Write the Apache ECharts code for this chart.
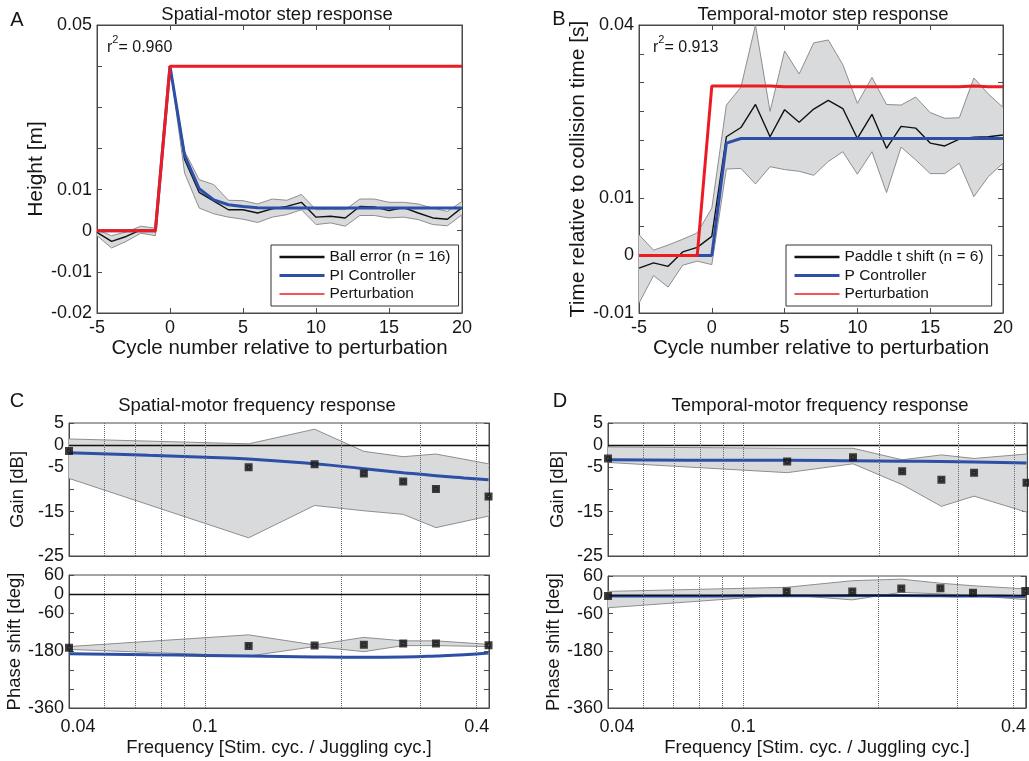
<!DOCTYPE html>
<html><head><meta charset="utf-8">
<script src="https://cdn.jsdelivr.net/npm/echarts@6/dist/echarts.min.js"></script>
<style>html,body{margin:0;padding:0;background:#fff}#c{width:1029px;height:761px}</style>
</head><body><div id="c"></div>
<script>
// ---------- DATA ----------
const cycles = [-5,-4,-3,-2,-1,0,1,2,3,4,5,6,7,8,9,10,11,12,13,14,15,16,17,18,19,20];

// Panel A: spatial-motor step response (Height [m])
const ballError = [-0.0004,-0.0026,-0.0014,0.0002,-0.0002,0.040,0.0173,0.0093,0.0072,0.0051,0.0051,0.0043,0.0053,0.0059,0.0069,0.0033,0.0035,0.0031,0.0059,0.0058,0.0049,0.0056,0.0043,0.0031,0.0028,0.0056];
const ballUpper = [0.0002,-0.0012,-0.0003,0.0011,0.0006,0.040,0.0193,0.0124,0.0112,0.0074,0.0073,0.0065,0.0077,0.0074,0.0088,0.0051,0.0052,0.0051,0.0077,0.0077,0.0069,0.0069,0.0065,0.0055,0.0047,0.0071];
const ballLower = [-0.0012,-0.0042,-0.0026,-0.0006,-0.0012,0.040,0.0140,0.0055,0.0041,0.0033,0.0028,0.0020,0.0033,0.0039,0.0051,0.0015,0.0019,0.0011,0.0037,0.0037,0.0031,0.0033,0.0027,0.0015,0.0012,0.0039];
const piController = [0,0,0,0,0,0.040,0.0183,0.0102,0.0075,0.0063,0.0059,0.0056,0.0055,0.0055,0.0055,0.0055,0.0055,0.0055,0.0055,0.0055,0.0055,0.0055,0.0055,0.0055,0.0055,0.0055];
const perturbationA = [0,0,0,0,0,0.04,0.04,0.04,0.04,0.04,0.04,0.04,0.04,0.04,0.04,0.04,0.04,0.04,0.04,0.04,0.04,0.04,0.04,0.04,0.04,0.04];

// Panel B: temporal-motor step response (Time relative to collision time [s])
const paddleShift = [-0.0022,-0.0013,-0.0019,0.0006,0.0014,0.0033,0.0206,0.0222,0.0262,0.0206,0.0253,0.0231,0.0254,0.0269,0.0255,0.0203,0.0245,0.0186,0.0224,0.0221,0.0195,0.0190,0.0202,0.0205,0.0206,0.0209];
const paddleUpper = [0.0036,0.0009,0.0018,0.0028,0.0039,0.0082,0.0261,0.0292,0.0400,0.0250,0.0355,0.0315,0.0369,0.0374,0.0331,0.0264,0.0309,0.0262,0.0261,0.0275,0.0248,0.0238,0.0239,0.0308,0.0280,0.0257];
const paddleLower = [-0.0083,-0.0035,-0.0055,-0.0017,-0.0010,-0.0016,0.0150,0.0151,0.0124,0.0154,0.0149,0.0146,0.0139,0.0163,0.0180,0.0141,0.0180,0.0109,0.0188,0.0166,0.0142,0.0142,0.0160,0.0102,0.0137,0.0160];
const pController = [0,0,0,0,0,0,0.0195,0.0203,0.0203,0.0203,0.0203,0.0203,0.0203,0.0203,0.0203,0.0203,0.0203,0.0203,0.0203,0.0203,0.0203,0.0203,0.0203,0.0203,0.0203,0.0203];
const perturbationB = [0,0,0,0,0,0.0294,0.0294,0.0294,0.0294,0.0294,0.0293,0.0293,0.0293,0.0293,0.0293,0.0293,0.0293,0.0293,0.0293,0.0293,0.0293,0.0293,0.0293,0.0294,0.0293,0.0293];

// Panels C/D: frequency responses
const freqs = [0.05,0.125,0.175,0.225,0.275,0.325,0.425];
const spatialGain      = [-1.3,-5.0,-4.3,-6.4,-8.2,-9.9,-11.6];
const spatialGainUpper = [1.4,0.3,3.6,-1.4,-2.6,-2.0,-4.2];
const spatialGainLower = [-7.5,-20.9,-13.6,-14.8,-15.6,-18.6,-16.0];
const spatialPhase      = [-170,-164,-163,-160,-156,-156,-162];
const spatialPhaseUpper = [-166,-129,-161,-137,-148,-148,-159];
const spatialPhaseLower = [-175,-196,-166,-182,-163,-163,-166];

const temporalGain      = [-3.0,-3.7,-2.7,-5.9,-7.8,-6.2,-8.5];
const temporalGainUpper = [-0.4,-0.7,-0.7,-3.3,-2.2,-3.0,-2.0];
const temporalGainLower = [-3.9,-6.2,-4.2,-8.9,-13.8,-11.5,-15.1];
const temporalPhase      = [-4,11,11,20,21,7,12];
const temporalPhaseUpper = [11,24,45,50,37,29,19];
const temporalPhaseLower = [-41,0,-16,8,3,-2,-15];

const modelFreqs = [0.05,0.075,0.1,0.125,0.175,0.225,0.275,0.325,0.375,0.425];
const piGain  = [-1.7,-2.3,-2.7,-3.1,-4.2,-5.3,-6.2,-6.9,-7.4,-7.8];
const piPhase = [-189,-192,-194,-196,-199,-200,-199,-196,-192,-186];
const pGain   = [-3.3,-3.4,-3.4,-3.4,-3.5,-3.6,-3.7,-3.8,-3.9,-4.0];
const pPhase  = [-4,-4,-3,-3,-2,-2,-3,-4,-4,-5];

// tick labels
const heightTicks = [-0.02,-0.01,0,0.01,0.05];
const timeTicks = [-0.01,0,0.01,0.04];
const gainTicks = [-25,-15,-5,0,5];
const phaseTicks = [-360,-180,-60,0,60];
const freqTickValues = [0.05,0.1,0.4];
const freqTickLabels = ['0.04','0.1','0.4'];
const freqGridLines = [0.06,0.07,0.08,0.09,0.1,0.2,0.3,0.4];

// ---------- STYLE ----------
const FONT = '"Liberation Sans", Arial, Helvetica, sans-serif';
const AX = '#4a4a4a';
const TXT = '#161616';
const BAND_FILL = '#d9dadc', BAND_EDGE = '#8e8e8e';
const RED = '#ec1c24', BLUE = '#2d4fa5', BLACK = '#111';

const chart = echarts.init(document.getElementById('c'), null, {renderer:'canvas', width:1029, height:761});

const grids = [
  {left:97, top:25, width:365, height:288},
  {left:639, top:25, width:364, height:288},
  {left:69, top:423, width:420, height:133},
  {left:69, top:575, width:420, height:133},
  {left:608, top:423, width:419, height:133},
  {left:608, top:576, width:419, height:132}
].map(g => Object.assign({show:true, borderColor:AX, borderWidth:1, backgroundColor:'rgba(0,0,0,0)'}, g));

function pick(shown){
  return v => shown.some(s => Math.abs(s - v) < 1e-9) ? String(+Number(v).toFixed(6)) : '';
}

function stepX(gi, pos, labels, name){
  return {type:'value', gridIndex:gi, position:pos, min:-5, max:20, interval:5,
    axisLine:{show:true, onZero:false, lineStyle:{color:AX}},
    axisTick:{show:true, inside:true, length:5, lineStyle:{color:AX}},
    axisLabel:{show:labels, fontSize:18, color:TXT, margin:6, fontFamily:FONT},
    splitLine:{show:false},
    name:name||'', nameLocation:'middle', nameGap:25,
    nameTextStyle:{fontSize:20.5, color:TXT, fontFamily:FONT}};
}
function freqX(gi, labels, name){
  return {type:'log', logBase:10, gridIndex:gi, position:'bottom', min:0.05, max:0.426,
    axisLine:{show:true, onZero:false, lineStyle:{color:AX}},
    axisTick:{show:false},
    minorTick:{show:false},
    axisLabel:{show:labels, customValues:freqTickValues, fontSize:18, color:TXT, margin:10, fontFamily:FONT,
      rich:{first:{fontSize:18, fontFamily:FONT, color:TXT, padding:[0,0,0,18]}},
      formatter: v => {
        const i = freqTickValues.findIndex(t => Math.abs(t - v) / t < 1e-6);
        if (i < 0) return '';
        return i === 0 ? '{first|' + freqTickLabels[i] + '}' : freqTickLabels[i];
      }},
    splitLine:{show:false},
    name:name||'', nameLocation:'middle', nameGap:30,
    nameTextStyle:{fontSize:18.5, color:TXT, fontFamily:FONT}};
}
function valY(gi, pos, min, max, interval, shown, name, gap, nfs){
  const right = pos === 'right';
  return {type:'value', gridIndex:gi, position:pos, min, max, interval,
    axisLine:{show:true, onZero:false, lineStyle:{color:AX}},
    axisTick:{show:true, inside:true, length:5, lineStyle:{color:AX}},
    axisLabel:{show:!right, fontSize:18, color:TXT, margin:5, fontFamily:FONT, formatter: pick(shown)},
    splitLine:{show:false},
    name: right ? '' : name, nameLocation:'middle', nameGap:gap,
    nameTextStyle:{fontSize:nfs, color:TXT, fontFamily:FONT}};
}

const xAxis = [
  stepX(0,'bottom',true,'Cycle number relative to perturbation'), stepX(0,'top',false),
  stepX(1,'bottom',true,'Cycle number relative to perturbation'), stepX(1,'top',false),
  freqX(2,false), freqX(3,true,'Frequency [Stim. cyc. / Juggling cyc.]'),
  freqX(4,false), freqX(5,true,'Frequency [Stim. cyc. / Juggling cyc.]')
];
const yAxis = [
  valY(0,'left',-0.02,0.05,0.01,heightTicks,'Height [m]',38,21), valY(0,'right',-0.02,0.05,0.01,heightTicks),
  valY(1,'left',-0.01,0.04,0.005,timeTicks,'Time relative to collision time [s]',45,21), valY(1,'right',-0.01,0.04,0.005,timeTicks),
  valY(2,'left',-25,5,5,gainTicks,'Gain [dB]',42,18.5), valY(2,'right',-25,5,5,gainTicks),
  valY(3,'left',-360,60,60,phaseTicks,'Phase shift [deg]',42,18.5), valY(3,'right',-360,60,60,phaseTicks),
  valY(4,'left',-25,5,5,gainTicks,'Gain [dB]',41,18.5), valY(4,'right',-25,5,5,gainTicks),
  valY(5,'left',-360,60,60,phaseTicks,'Phase shift [deg]',41,18.5), valY(5,'right',-360,60,60,phaseTicks)
];

function pairs(xs, ys){ return xs.map((x,i) => [x, ys[i]]); }

// shaded variability band between lower and upper arrays, drawn through the axes' scales
function band(xi, yi, xs, lo, hi){
  return {type:'custom', xAxisIndex:xi, yAxisIndex:yi, clip:true, silent:true, z:1,
    data: xs.map((x,i) => [x, lo[i], hi[i]]),
    encode:{x:0, y:[1,2]},
    renderItem: (params, api) => {
      if (params.dataIndex !== 0) return null;
      const top = xs.map((x,i) => api.coord([x, hi[i]]));
      const bot = xs.map((x,i) => api.coord([x, lo[i]]));
      return {type:'group', children:[
        {type:'polygon', shape:{points: top.concat(bot.slice().reverse())}, style:{fill:BAND_FILL, stroke:null}},
        {type:'polyline', shape:{points: top}, style:{fill:null, stroke:BAND_EDGE, lineWidth:1}},
        {type:'polyline', shape:{points: bot}, style:{fill:null, stroke:BAND_EDGE, lineWidth:1}}
      ]};
    }};
}
function line(name, xi, yi, xs, ys, color, width, z, smooth){
  return {type:'line', name, xAxisIndex:xi, yAxisIndex:yi, data:pairs(xs, ys), symbol:'none', smooth:!!smooth,
    lineStyle:{color, width}, itemStyle:{color}, z:z||3, silent:true};
}
function squares(name, xi, yi, xs, ys){
  return {type:'scatter', name, xAxisIndex:xi, yAxisIndex:yi, data:pairs(xs, ys), symbol:'rect', symbolSize:4.5,
    itemStyle:{color:'#6a6a6a', borderColor:'#111', borderWidth:3.5}, z:6, silent:true};
}
function bodeMarks(){
  return {silent:true, symbol:['none','none'], label:{show:false}, animation:false,
    lineStyle:{type:'dotted', color:'#666', width:1},
    data:[{yAxis:0, lineStyle:{type:'solid', color:'#111', width:1.3}}].concat(freqGridLines.map(f => ({xAxis:f})))};
}
function withMarks(s){ s.markLine = bodeMarks(); return s; }

const series = [
  band(0, 0, cycles, ballLower, ballUpper),
  line('Ball error (n = 16)', 0, 0, cycles, ballError, BLACK, 1.4, 3),
  line('PI Controller', 0, 0, cycles, piController, BLUE, 3, 4),
  line('Perturbation', 0, 0, cycles, perturbationA, RED, 3, 5),

  band(2, 2, cycles, paddleLower, paddleUpper),
  line('Paddle t shift (n = 6)', 2, 2, cycles, paddleShift, BLACK, 1.4, 3),
  line('P Controller', 2, 2, cycles, pController, BLUE, 3, 4),
  line('Perturbation', 2, 2, cycles, perturbationB, RED, 3, 5),

  band(4, 4, freqs, spatialGainLower, spatialGainUpper),
  withMarks(line('PI gain', 4, 4, modelFreqs, piGain, BLUE, 3, 4, true)),
  squares('spatial gain', 4, 4, freqs, spatialGain),
  band(5, 6, freqs, spatialPhaseLower, spatialPhaseUpper),
  withMarks(line('PI phase', 5, 6, modelFreqs, piPhase, BLUE, 3, 4, true)),
  squares('spatial phase', 5, 6, freqs, spatialPhase),

  band(6, 8, freqs, temporalGainLower, temporalGainUpper),
  withMarks(line('P gain', 6, 8, modelFreqs, pGain, BLUE, 3, 4, true)),
  squares('temporal gain', 6, 8, freqs, temporalGain),
  band(7, 10, freqs, temporalPhaseLower, temporalPhaseUpper),
  withMarks(line('P phase', 7, 10, modelFreqs, pPhase, BLUE, 3, 4, true)),
  squares('temporal phase', 7, 10, freqs, temporalPhase)
];

function legend(left, names){
  const widths = [2.5, 3, 1.5];
  return {show:true, orient:'vertical', left, top:245, selectedMode:false,
    backgroundColor:'#fff', borderColor:'#333', borderWidth:1, padding:[4,8,4,7],
    itemGap:2.5, itemWidth:45, itemHeight:15,
    itemStyle:{opacity:0},
    textStyle:{fontSize:15.5, color:TXT, fontFamily:FONT},
    data: names.map((n,i) => ({name:n, lineStyle:{width:widths[i]}}))};
}

function txt(t, x, y, fs, align){
  return {type:'text', x, y, silent:true,
    style:{text:t, fontSize:fs, fontFamily:FONT, fill:TXT, align:align||'center', verticalAlign:'middle'}};
}
function r2(x, y, val){
  return {type:'text', x, y, silent:true, z:50,
    style:{text:'{a|r}{b|2}{a|= ' + val + '}', align:'left', verticalAlign:'middle', fill:TXT,
      rich:{a:{fontSize:16, fontFamily:FONT, fill:TXT, verticalAlign:'bottom', lineHeight:22},
            b:{fontSize:11, fontFamily:FONT, fill:TXT, verticalAlign:'top', lineHeight:22}}}};
}

const graphic = [
  txt('A', 17, 20, 20), txt('Spatial-motor step response', 277, 15, 18.5),
  txt('B', 559, 19, 20), txt('Temporal-motor step response', 823, 15, 18.5),
  txt('C', 17, 401, 20), txt('Spatial-motor frequency response', 257, 406, 18.5),
  txt('D', 560, 401, 20), txt('Temporal-motor frequency response', 820, 406, 18.5),
  r2(107, 45, '0.960'), r2(653, 45, '0.913')
];

chart.setOption({
  animation:false,
  backgroundColor:'#fff',
  textStyle:{fontFamily:FONT},
  grid:grids, xAxis, yAxis, series, graphic,
  legend:[legend(271, ['Ball error (n = 16)','PI Controller','Perturbation']),
          legend(786, ['Paddle t shift (n = 6)','P Controller','Perturbation'])]
});
</script></body></html>
